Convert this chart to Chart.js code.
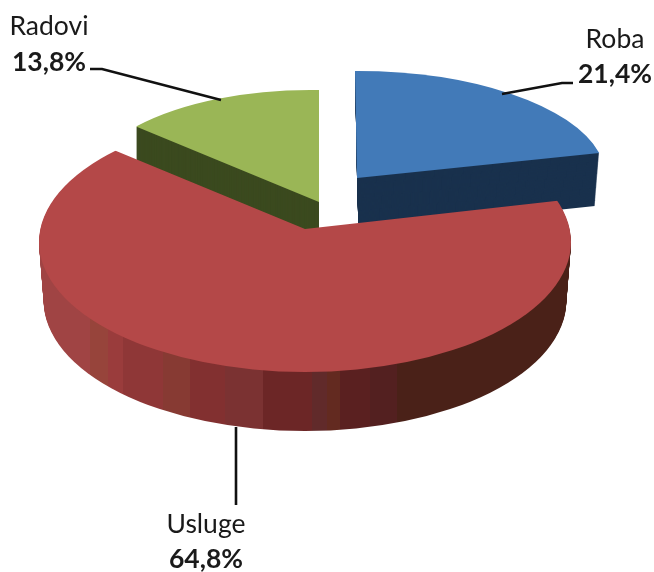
<!DOCTYPE html>
<html>
<head>
<meta charset="utf-8">
<script src="https://cdn.jsdelivr.net/npm/chart.js@4"></script>
<style>
  html, body { margin: 0; padding: 0; background: #fff; }
  #wrap { width: 654px; height: 572px; }
</style>
</head>
<body>
<div id="wrap"><canvas id="myChart"></canvas></div>
<script>
const categories = ['Roba', 'Usluge', 'Radovi'];
const shares = [21.4, 64.8, 13.8];
const topColors = ['#427ab8', '#b44848', '#9ab656'];
const wallColors = ['#19314d', '#4a2118', '#3b4a1f'];

// how each flat slice is tilted: apex on the page, the two radius vectors, wall depth
const tilt = [
  { apex: [357, 178], u: [249, -1], v: [-2, -107], depth: [1.5, 53], taper: 0.024 },
  { apex: [305, 229], u: [300, 0], v: [0, -146], depth: [0, 59],
    clip: { x: 305, y: 242, rx: 266, ry: 130, shrink: 0.08 } },
  { apex: [319, 202], u: [240, 4], v: [0, -112], depth: [0, 38] }
];
const drawOrder = [2, 0, 1];

// stripes along the front wall of the big slice
const wallStripes = [
  [40, '#a04444'], [90, '#97443b'], [108, '#9a3c3c'], [123, '#8f3737'],
  [163, '#873a33'], [190, '#823030'], [225, '#7b3232'], [263, '#6c2626'],
  [312, '#612a2a'], [327, '#632a20'], [340, '#5a2020'], [370, '#532020'],
  [397, '#4a2118'], [571, '#4a2118']
];

const labels = [
  { x: 615, nameY: 48, valueY: 83, line: [[573, 83], [562, 83], [502, 94]] },
  { x: 206, nameY: 533, valueY: 568, line: [[236, 427], [236, 505]] },
  { x: 49, nameY: 35, valueY: 71, line: [[90, 69], [102, 69], [221, 100]] }
];

function paintArc(ctx, arc, color) {
  const saved = arc.options;
  arc.options = Object.assign({}, saved, { backgroundColor: color });
  arc.draw(ctx);
  arc.options = saved;
}

function placeSlice(ctx, arc, t, k) {
  const R = arc.outerRadius;
  const narrow = 1 - (t.taper || 0) * k;
  ctx.translate(t.apex[0] + t.depth[0] * k, t.apex[1] + t.depth[1] * k);
  ctx.transform(t.u[0] * narrow / R, t.u[1] / R, -t.v[0] / R, -t.v[1] / R, 0, 0);
  ctx.translate(-arc.x, -arc.y);
}

function stripeGradient(ctx, arc, t) {
  const R = arc.outerRadius;
  const toPie = x => arc.x + (x - t.apex[0]) * R / t.u[0];
  const first = wallStripes[0][0];
  const last = wallStripes[wallStripes.length - 1][0];
  const g = ctx.createLinearGradient(toPie(first), 0, toPie(last), 0);
  wallStripes.forEach(function (s, i) {
    g.addColorStop((s[0] - first) / (last - first), s[1]);
    if (i + 1 < wallStripes.length) {
      g.addColorStop((wallStripes[i + 1][0] - first) / (last - first), s[1]);
    }
  });
  return g;
}

function drawLayer(ctx, arc, t, k, color) {
  ctx.save();
  if (t.clip) {
    const c = t.clip;
    const steps = t.depth[1] * k;
    ctx.beginPath();
    ctx.ellipse(c.x, c.y + steps, c.rx - c.shrink * steps, c.ry, 0, 0, Math.PI * 2);
    ctx.clip();
  }
  placeSlice(ctx, arc, t, k);
  paintArc(ctx, arc, color);
  ctx.restore();
}

const tiltedPie = {
  id: 'tiltedPie',
  beforeDatasetsDraw(chart) {
    const ctx = chart.ctx;
    const arcs = chart.getDatasetMeta(0).data;
    drawOrder.forEach(function (i) {
      const arc = arcs[i];
      const t = tilt[i];
      const n = Math.ceil(Math.hypot(t.depth[0], t.depth[1]));
      const wall = t.clip ? stripeGradient(ctx, arc, t) : wallColors[i];
      for (let s = n; s > 0; s--) {
        drawLayer(ctx, arc, t, s / n, wall);
      }
      drawLayer(ctx, arc, t, 0, topColors[i]);
    });
    return false;
  },
  afterDraw(chart) {
    const ctx = chart.ctx;
    ctx.save();
    ctx.strokeStyle = '#111';
    ctx.lineWidth = 2.6;
    ctx.fillStyle = '#1a1a1a';
    ctx.textAlign = 'center';
    labels.forEach(function (l, i) {
      ctx.beginPath();
      l.line.forEach(function (p, j) {
        if (j === 0) ctx.moveTo(p[0], p[1]);
        else ctx.lineTo(p[0], p[1]);
      });
      ctx.stroke();
      ctx.font = '26.5px Lato';
      ctx.fillText(categories[i], l.x, l.nameY);
      ctx.font = 'bold 26.5px Lato';
      ctx.fillText(shares[i].toFixed(1).replace('.', ',') + '%', l.x, l.valueY);
    });
    ctx.restore();
  }
};

new Chart(document.getElementById('myChart'), {
  type: 'pie',
  data: {
    labels: categories,
    datasets: [{ data: shares, backgroundColor: topColors, borderWidth: 0 }]
  },
  options: {
    responsive: true,
    maintainAspectRatio: false,
    animation: false,
    events: [],
    plugins: { legend: { display: false }, tooltip: { enabled: false } }
  },
  plugins: [tiltedPie]
});
</script>
</body>
</html>
